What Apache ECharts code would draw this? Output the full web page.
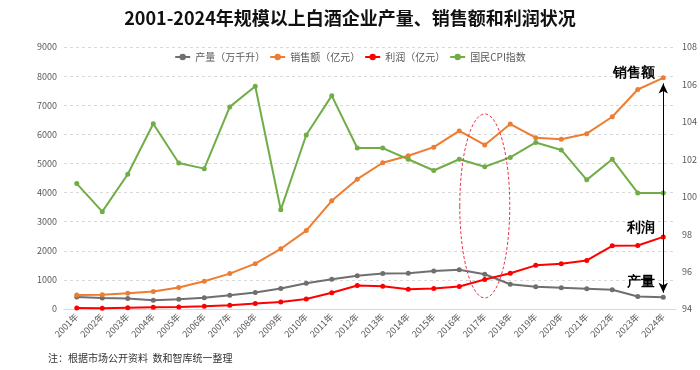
<!DOCTYPE html>
<html><head><meta charset="utf-8">
<script src="https://cdn.jsdelivr.net/npm/echarts@6/dist/echarts.min.js"></script>
<style>html,body{margin:0;padding:0;background:#fff}#c{width:700px;height:370px}</style>
</head><body><div id="c"></div>
<script>
const years = ['2001年','2002年','2003年','2004年','2005年','2006年','2007年','2008年','2009年','2010年','2011年','2012年','2013年','2014年','2015年','2016年','2017年','2018年','2019年','2020年','2021年','2022年','2023年','2024年'];
const production = [410, 378, 360, 300, 335, 390, 470, 568, 705, 886, 1023, 1140, 1216, 1230, 1307, 1352, 1193, 852, 761, 727, 693, 659, 432, 400];
const sales = [477, 489, 545, 602, 739, 955, 1216, 1557, 2068, 2693, 3716, 4460, 5023, 5262, 5559, 6118, 5635, 6353, 5886, 5829, 6023, 6604, 7539, 7940];
const profit = [34, 23, 45, 57, 68, 91, 125, 193, 239, 341, 557, 807, 784, 682, 705, 773, 1011, 1227, 1500, 1557, 1670, 2170, 2182, 2477];
const cpi = [100.7, 99.2, 101.2, 103.9, 101.8, 101.5, 104.8, 105.9, 99.3, 103.3, 105.4, 102.6, 102.6, 102.0, 101.4, 102.0, 101.6, 102.1, 102.9, 102.5, 100.9, 102.0, 100.2, 100.2];
const leftTicks = {min: 0, max: 9000, interval: 1000};
const rightTicks = {min: 94, max: 108, interval: 2};
const names = ['产量（万千升）', '销售额（亿元）', '利润（亿元）', '国民CPI指数'];
const colors = ['#6f6f6f', '#ED7D31', '#FF0000', '#70AD47'];

const FONT = '"Noto Sans CJK SC", sans-serif';
const chart = echarts.init(document.getElementById('c'));
function mk(name, data, color, yi) {
  return {name, type: 'line', data, yAxisIndex: yi, symbol: 'circle', symbolSize: 5,
    lineStyle: {color, width: 2}, itemStyle: {color}, z: 3};
}
const s = [
  mk(names[0], production, colors[0], 0),
  mk(names[1], sales, colors[1], 0),
  mk(names[2], profit, colors[2], 0),
  mk(names[3], cpi, colors[3], 1)
];
s[1].markLine = {silent: true, symbol: ['arrow', 'arrow'], symbolSize: [7, 10],
  lineStyle: {color: '#000', width: 1, type: 'solid'}, label: {show: false},
  data: [[{coord: ['2024年', 7750]}, {coord: ['2024年', 560]}]]};
chart.setOption({
  animation: false,
  textStyle: {fontFamily: FONT},
  title: {text: '2001-2024年规模以上白酒企业产量、销售额和利润状况', left: 'center', top: 4,
    textStyle: {fontSize: 18, fontWeight: 'bold', color: '#111', fontFamily: FONT}},
  legend: {top: 47, left: 'center', itemWidth: 15, itemHeight: 8, itemGap: 4,
    textStyle: {fontSize: 10, color: '#595959', fontFamily: FONT}},
  grid: {left: 64, right: 23, top: 47, bottom: 61},
  xAxis: {type: 'category', data: years, boundaryGap: true,
    axisLine: {lineStyle: {color: '#d9d9d9'}}, axisTick: {show: false},
    axisLabel: {rotate: 45, fontSize: 9, color: '#595959', margin: 6, interval: 0, fontFamily: FONT}},
  yAxis: [
    {type: 'value', min: leftTicks.min, max: leftTicks.max, interval: leftTicks.interval,
      axisLine: {show: false}, axisTick: {show: false},
      axisLabel: {fontSize: 9, color: '#595959', margin: 7, fontFamily: FONT, formatter: v => String(v)},
      splitLine: {lineStyle: {color: '#d9d9d9', type: [3, 3]}}},
    {type: 'value', min: rightTicks.min, max: rightTicks.max, interval: rightTicks.interval,
      axisLine: {show: false}, axisTick: {show: false},
      axisLabel: {fontSize: 9, color: '#595959', margin: 6, fontFamily: FONT, formatter: v => String(v)},
      splitLine: {show: false}}
  ],
  series: s
});
const last = years[years.length - 1];
const pSales = chart.convertToPixel({xAxisIndex: 0, yAxisIndex: 0}, [last, sales[sales.length - 1]]);
const pProfit = chart.convertToPixel({xAxisIndex: 0, yAxisIndex: 0}, [last, profit[profit.length - 1]]);
const pProd = chart.convertToPixel({xAxisIndex: 0, yAxisIndex: 0}, [last, production[production.length - 1]]);
const p2017 = chart.convertToPixel({xAxisIndex: 0, yAxisIndex: 0}, ['2017年', 3540]);
const lab = (text, x, y) => ({type: 'text', x, y, style: {text, fontSize: 14, fontWeight: 'bold', fill: '#000',
  font: 'bold 14px ' + FONT, textAlign: 'right', textVerticalAlign: 'middle'}, z: 10});
chart.setOption({graphic: [
  lab('销售额', pSales[0] - 8, pSales[1] - 5),
  lab('利润', pProfit[0] - 8, pProfit[1] - 9),
  lab('产量', pProd[0] - 8, pProd[1] - 15),
  {type: 'ellipse', shape: {cx: p2017[0], cy: p2017[1], rx: 25, ry: 92},
    style: {fill: 'none', stroke: '#e8334a', lineWidth: 1, lineDash: [3, 2]}, z: 10},
  {type: 'text', left: 48, top: 353, style: {text: '注：根据市场公开资料  数和智库统一整理',
    font: '10px ' + FONT, fill: '#333'}}
]});
</script></body></html>
